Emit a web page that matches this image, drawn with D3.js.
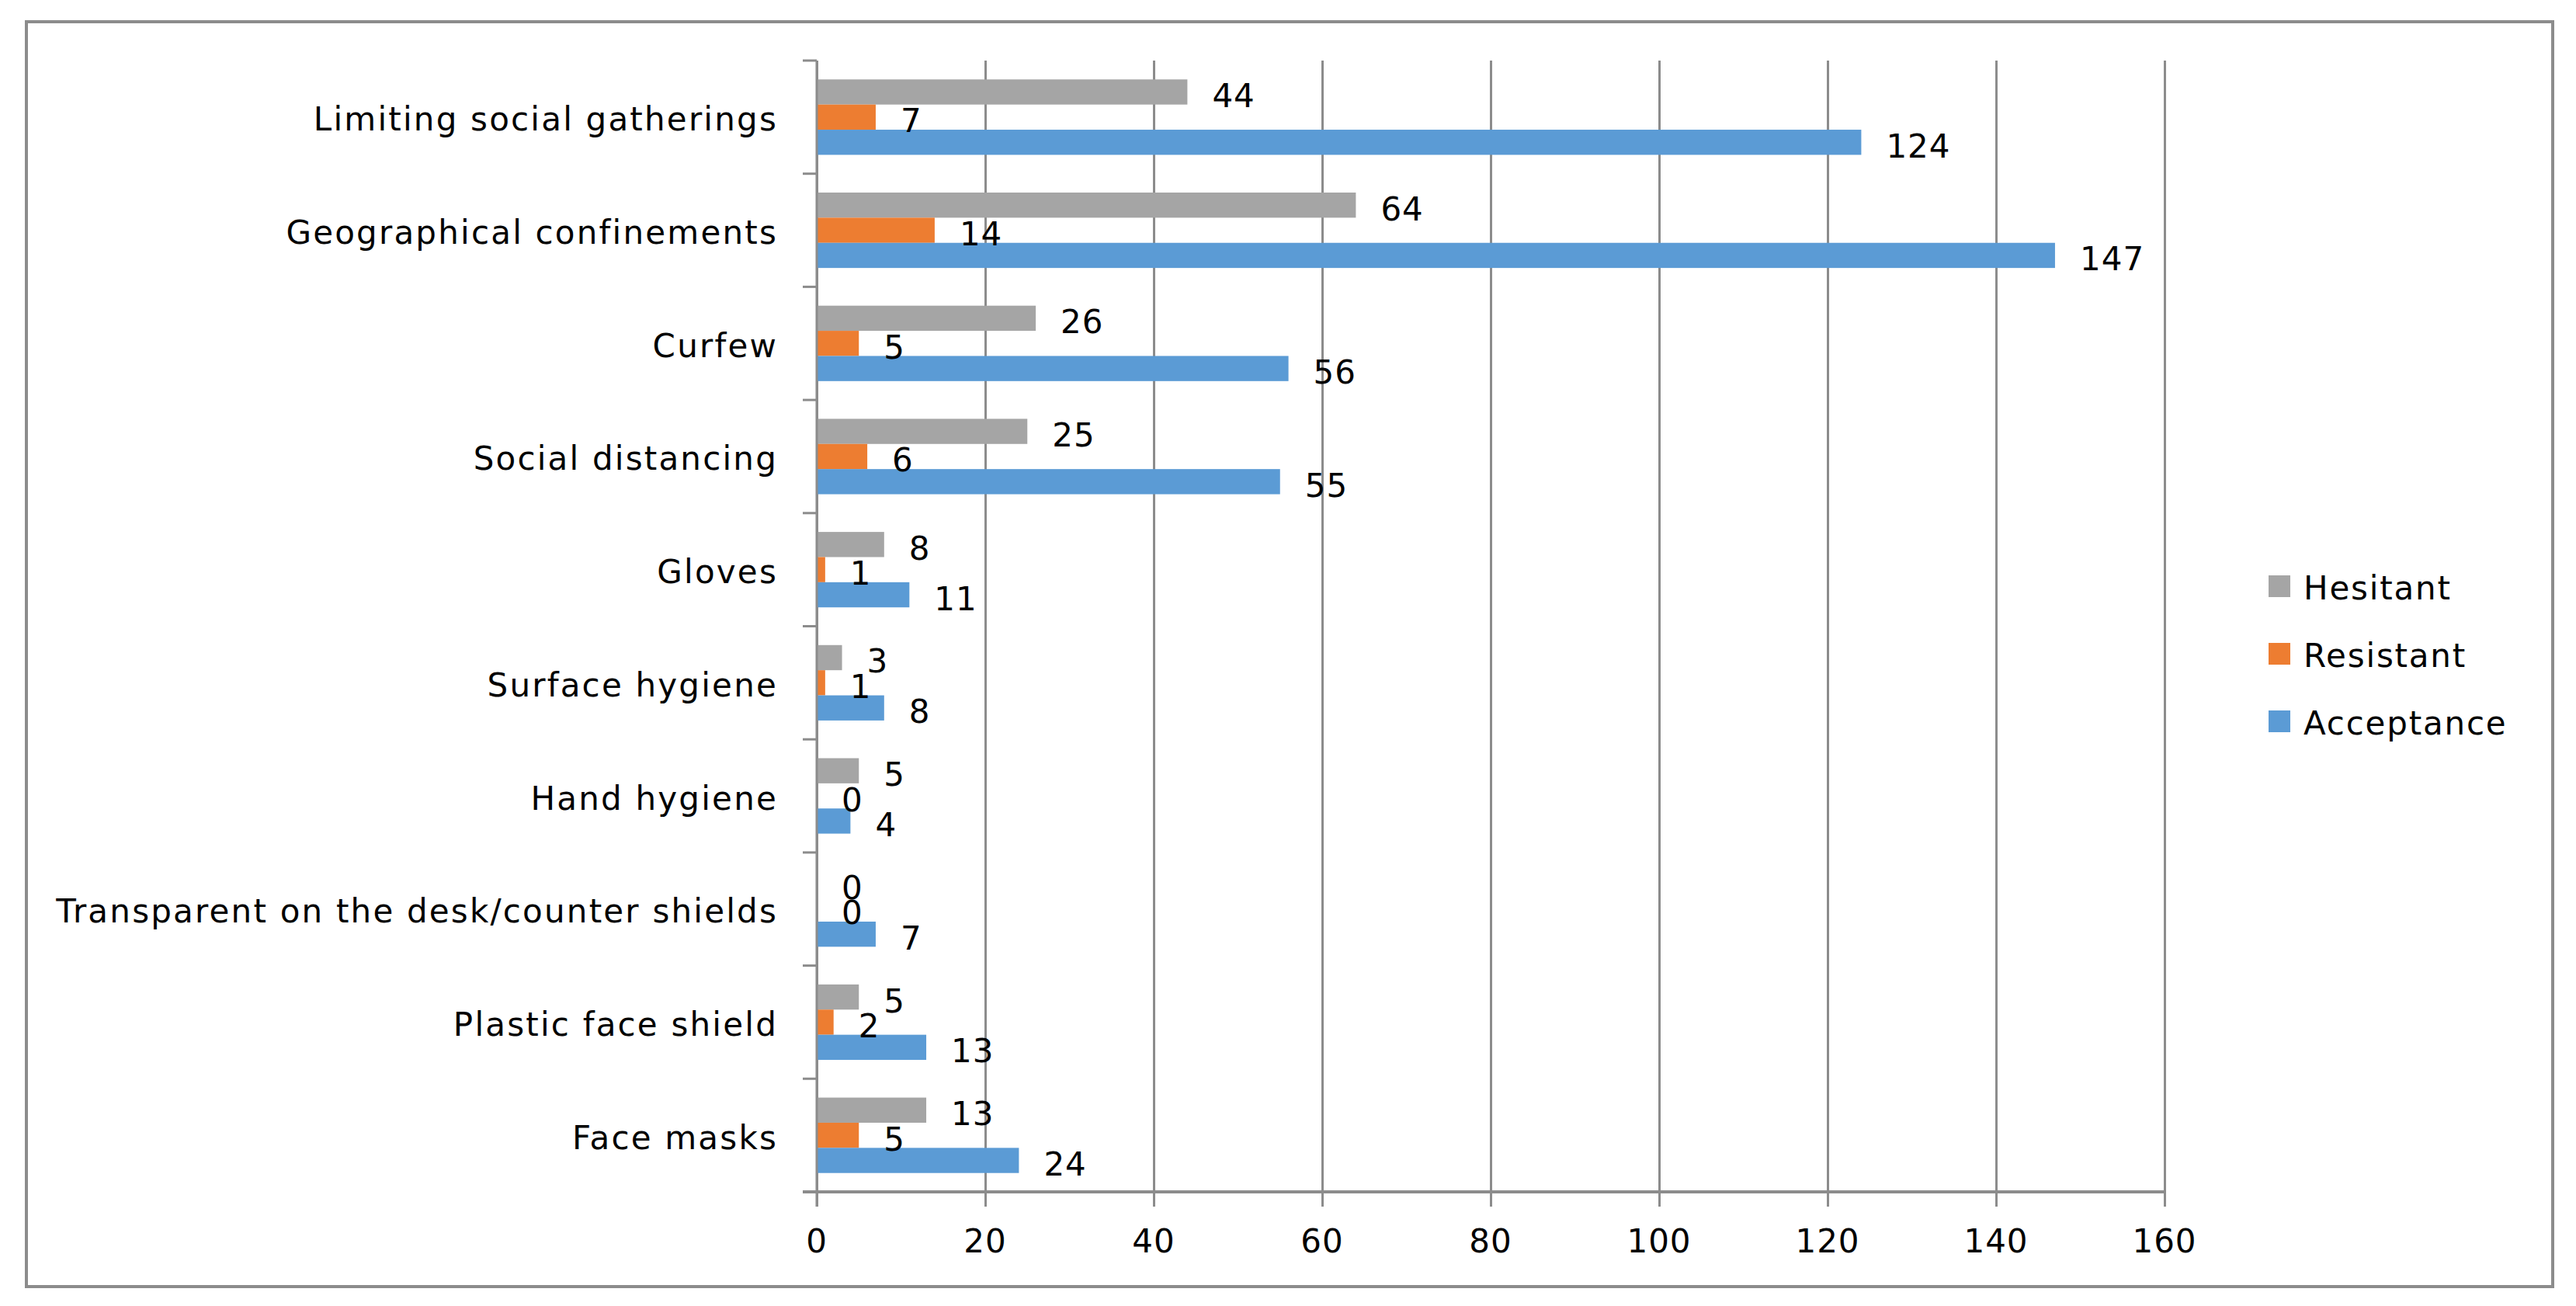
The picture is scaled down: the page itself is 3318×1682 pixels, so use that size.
<html>
<head>
<script src="https://d3js.org/d3.v7.min.js"></script>
<style>
  body { margin: 0; background: #fff; }
  svg { font-family: "DejaVu Sans", Verdana, sans-serif; }
</style>
</head>
<body>
<svg id="chart"></svg>
<script>
// data, top category first
const categories = [
  "Limiting social gatherings",
  "Geographical confinements",
  "Curfew",
  "Social distancing",
  "Gloves",
  "Surface hygiene",
  "Hand hygiene",
  "Transparent on the desk/counter shields",
  "Plastic face shield",
  "Face masks"
];
const seriesNames = ["Hesitant", "Resistant", "Acceptance"];
const hesitant   = [44, 64, 26, 25, 8, 3, 5, 0, 5, 13];
const resistant  = [7, 14, 5, 6, 1, 1, 0, 0, 2, 5];
const acceptance = [124, 147, 56, 55, 11, 8, 4, 7, 13, 24];
const xTicks = [0, 20, 40, 60, 80, 100, 120, 140, 160];
const colors = ["#a5a5a5", "#ed7d31", "#5b9bd5"];

const W = 3318, H = 1682;
const plot = { left: 1052, right: 2788, top: 78, bottom: 1535 };
const gridColor = "#8c8c8c";
const fontSize = 42;

const svg = d3.select("#chart").attr("width", W).attr("height", H);

// outer frame
svg.append("rect")
  .attr("x", 34).attr("y", 28)
  .attr("width", 3254).attr("height", 1629)
  .attr("fill", "#fff")
  .attr("stroke", gridColor)
  .attr("stroke-width", 4);

const x = d3.scaleLinear().domain([0, 160]).range([plot.left, plot.right]);
const y = d3.scaleBand().domain(categories).range([plot.top, plot.bottom]).padding(0);
const ySub = d3.scaleBand().domain(seriesNames).range([0, y.bandwidth()])
  .paddingInner(0).paddingOuter(0.75);

// vertical gridlines + ticks below the axis
const grid = svg.append("g")
  .attr("transform", `translate(0, ${plot.bottom})`)
  .call(d3.axisBottom(x).tickValues(xTicks)
    .tickSize(19).tickSizeOuter(0).tickFormat(""));
grid.select(".domain").remove();
grid.selectAll(".tick line")
  .attr("y1", -(plot.bottom - plot.top))
  .attr("stroke", gridColor)
  .attr("stroke-width", 3);

// tick labels
svg.append("g")
  .selectAll("text")
  .data(xTicks)
  .join("text")
  .attr("x", d => x(d))
  .attr("y", 1598)
  .attr("text-anchor", "middle")
  .attr("dominant-baseline", "central")
  .attr("font-size", fontSize)
  .attr("letter-spacing", 1)
  .attr("fill", "#000")
  .text(d => d);

// bars
const rows = categories.map((c, i) => ({
  cat: c,
  vals: [hesitant[i], resistant[i], acceptance[i]]
}));

const groups = svg.append("g")
  .selectAll("g")
  .data(rows)
  .join("g")
  .attr("transform", d => `translate(0, ${y(d.cat)})`);

groups.selectAll("rect")
  .data(d => d.vals.map((v, j) => ({ s: seriesNames[j], v, j })))
  .join("rect")
  .attr("x", x(0))
  .attr("y", d => ySub(d.s))
  .attr("width", d => x(d.v) - x(0))
  .attr("height", ySub.bandwidth())
  .attr("fill", d => colors[d.j]);

groups.selectAll("text")
  .data(d => d.vals.map((v, j) => ({ s: seriesNames[j], v, j })))
  .join("text")
  .attr("x", d => x(d.v) + 32)
  .attr("y", d => ySub(d.s) + ySub.bandwidth() / 2 + 5)
  .attr("dominant-baseline", "central")
  .attr("font-size", fontSize)
  .attr("letter-spacing", 1)
  .attr("fill", "#000")
  .text(d => d.v);

// axes lines
svg.append("line")
  .attr("x1", x(0) - 18).attr("x2", plot.right)
  .attr("y1", plot.bottom).attr("y2", plot.bottom)
  .attr("stroke", gridColor).attr("stroke-width", 4);

svg.append("line")
  .attr("x1", x(0)).attr("x2", x(0))
  .attr("y1", plot.top).attr("y2", plot.bottom + 19)
  .attr("stroke", gridColor).attr("stroke-width", 3);

// category boundary ticks on the left
const bounds = categories.map(c => y(c)).concat([plot.bottom]);
svg.append("g")
  .selectAll("line")
  .data(bounds)
  .join("line")
  .attr("x1", x(0) - 18).attr("x2", x(0))
  .attr("y1", d => d).attr("y2", d => d)
  .attr("stroke", gridColor).attr("stroke-width", 3);

// category labels
svg.append("g")
  .selectAll("text")
  .data(categories)
  .join("text")
  .attr("x", 1002)
  .attr("y", d => y(d) + y.bandwidth() / 2 + 3)
  .attr("text-anchor", "end")
  .attr("dominant-baseline", "central")
  .attr("font-size", fontSize)
  .attr("letter-spacing", 2.2)
  .attr("fill", "#000")
  .text(d => d);

// legend
const legend = svg.append("g")
  .selectAll("g")
  .data(seriesNames)
  .join("g")
  .attr("transform", (d, i) => `translate(2922, ${755 + i * 87})`);

legend.append("rect")
  .attr("x", 0).attr("y", -14)
  .attr("width", 28).attr("height", 28)
  .attr("fill", (d, i) => colors[i]);

legend.append("text")
  .attr("x", 45).attr("y", 2)
  .attr("dominant-baseline", "central")
  .attr("font-size", fontSize)
  .attr("letter-spacing", 1.8)
  .attr("fill", "#000")
  .text(d => d);
</script>
</body>
</html>
